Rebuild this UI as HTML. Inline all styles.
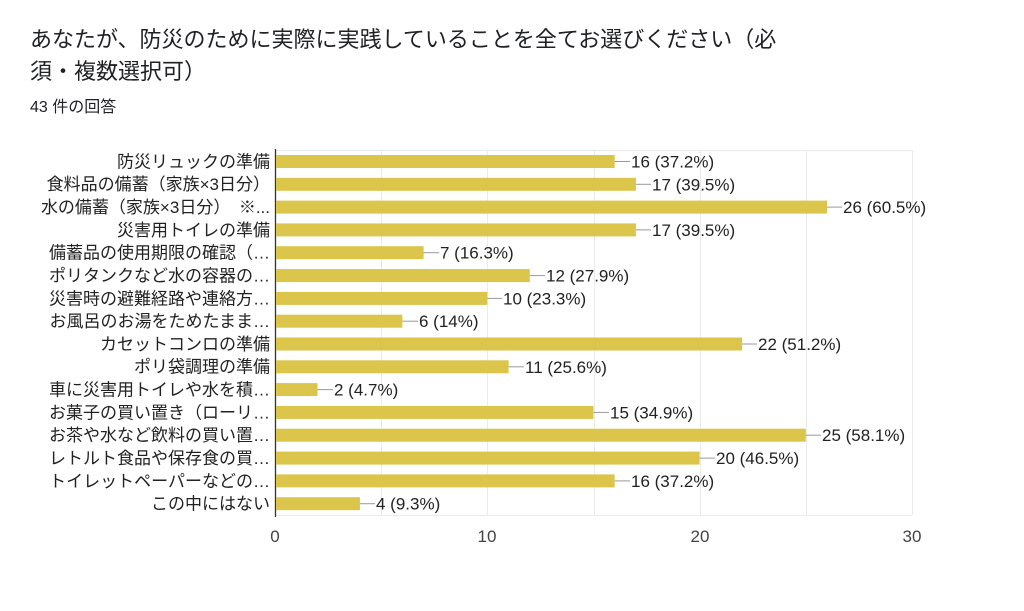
<!DOCTYPE html>
<html><head><meta charset="utf-8"><style>
html,body{margin:0;padding:0;background:#fff;}
svg{display:block;}
text{font-family:"Liberation Sans","Noto Sans CJK JP",sans-serif;}
</style></head><body>
<svg width="1024" height="611" viewBox="0 0 1024 611" xmlns="http://www.w3.org/2000/svg">
<rect width="1024" height="611" fill="#fff"/>
<text x="30" y="47" font-size="22" fill="#202124">あなたが、防災のために実際に実践していることを全てお選びください（必</text>
<text x="30" y="79" font-size="22" fill="#202124">須・複数選択可）</text>
<text x="30" y="112" font-size="16" fill="#202124">43 件の回答</text>
<g stroke="#ebebeb" stroke-width="1">
<line x1="275" y1="150.5" x2="912" y2="150.5"/>
<line x1="275" y1="515.5" x2="912" y2="515.5"/>
<line x1="381.5" y1="150" x2="381.5" y2="515"/>
<line x1="487.5" y1="150" x2="487.5" y2="515"/>
<line x1="594.5" y1="150" x2="594.5" y2="515"/>
<line x1="700.5" y1="150" x2="700.5" y2="515"/>
<line x1="806.5" y1="150" x2="806.5" y2="515"/>
<line x1="912.5" y1="150" x2="912.5" y2="515"/>
</g>
<line x1="275.5" y1="149" x2="275.5" y2="517" stroke="#333" stroke-width="1.3"/>
<g font-size="17" fill="#444" text-anchor="middle">
<text x="275" y="542">0</text>
<text x="487" y="542">10</text>
<text x="700" y="542">20</text>
<text x="912" y="542">30</text>
</g>
<g font-size="17" fill="#222" text-anchor="end">
<text x="270" y="167.4">防災リュックの準備</text>
<text x="270" y="190.2">食料品の備蓄（家族×3日分）</text>
<text x="270" y="213.0">水の備蓄（家族×3日分）　※...</text>
<text x="270" y="235.8">災害用トイレの準備</text>
<text x="270" y="258.6">備蓄品の使用期限の確認（…</text>
<text x="270" y="281.5">ポリタンクなど水の容器の…</text>
<text x="270" y="304.3">災害時の避難経路や連絡方…</text>
<text x="270" y="327.1">お風呂のお湯をためたまま…</text>
<text x="270" y="349.9">カセットコンロの準備</text>
<text x="270" y="372.7">ポリ袋調理の準備</text>
<text x="270" y="395.5">車に災害用トイレや水を積…</text>
<text x="270" y="418.3">お菓子の買い置き（ローリ…</text>
<text x="270" y="441.1">お茶や水など飲料の買い置…</text>
<text x="270" y="464.0">レトルト食品や保存食の買…</text>
<text x="270" y="486.8">トイレットペーパーなどの…</text>
<text x="270" y="509.6">この中にはない</text>
</g>
<g fill="#dbc54b">
<rect x="276" y="155" width="338.7" height="13"/>
<rect x="276" y="177.8" width="359.9" height="13"/>
<rect x="276" y="200.6" width="551.0" height="13"/>
<rect x="276" y="223.4" width="359.9" height="13"/>
<rect x="276" y="246.2" width="147.6" height="13"/>
<rect x="276" y="269.1" width="253.8" height="13"/>
<rect x="276" y="291.9" width="211.3" height="13"/>
<rect x="276" y="314.7" width="126.4" height="13"/>
<rect x="276" y="337.5" width="466.1" height="13"/>
<rect x="276" y="360.3" width="232.6" height="13"/>
<rect x="276" y="383.1" width="41.5" height="13"/>
<rect x="276" y="405.9" width="317.5" height="13"/>
<rect x="276" y="428.7" width="529.8" height="13"/>
<rect x="276" y="451.6" width="423.6" height="13"/>
<rect x="276" y="474.4" width="338.7" height="13"/>
<rect x="276" y="497.2" width="83.9" height="13"/>
</g>
<g stroke="#999" stroke-width="1">
<line x1="614.7" y1="161.5" x2="630" y2="161.5"/>
<line x1="635.9" y1="184.3" x2="651" y2="184.3"/>
<line x1="827.0" y1="207.1" x2="842" y2="207.1"/>
<line x1="635.9" y1="229.9" x2="651" y2="229.9"/>
<line x1="423.6" y1="252.7" x2="439" y2="252.7"/>
<line x1="529.8" y1="275.6" x2="545" y2="275.6"/>
<line x1="487.3" y1="298.4" x2="502" y2="298.4"/>
<line x1="402.4" y1="321.2" x2="418" y2="321.2"/>
<line x1="742.1" y1="344.0" x2="757" y2="344.0"/>
<line x1="508.6" y1="366.8" x2="524" y2="366.8"/>
<line x1="317.5" y1="389.6" x2="333" y2="389.6"/>
<line x1="593.5" y1="412.4" x2="609" y2="412.4"/>
<line x1="805.8" y1="435.2" x2="821" y2="435.2"/>
<line x1="699.6" y1="458.1" x2="715" y2="458.1"/>
<line x1="614.7" y1="480.9" x2="630" y2="480.9"/>
<line x1="359.9" y1="503.7" x2="375" y2="503.7"/>
</g>
<g font-size="17" fill="#222">
<text x="631" y="167.5">16 (37.2%)</text>
<text x="652" y="190.3">17 (39.5%)</text>
<text x="843" y="213.1">26 (60.5%)</text>
<text x="652" y="235.9">17 (39.5%)</text>
<text x="440" y="258.7">7 (16.3%)</text>
<text x="546" y="281.6">12 (27.9%)</text>
<text x="503" y="304.4">10 (23.3%)</text>
<text x="419" y="327.2">6 (14%)</text>
<text x="758" y="350.0">22 (51.2%)</text>
<text x="525" y="372.8">11 (25.6%)</text>
<text x="334" y="395.6">2 (4.7%)</text>
<text x="610" y="418.4">15 (34.9%)</text>
<text x="822" y="441.2">25 (58.1%)</text>
<text x="716" y="464.1">20 (46.5%)</text>
<text x="631" y="486.9">16 (37.2%)</text>
<text x="376" y="509.7">4 (9.3%)</text>
</g>
</svg>
</body></html>
